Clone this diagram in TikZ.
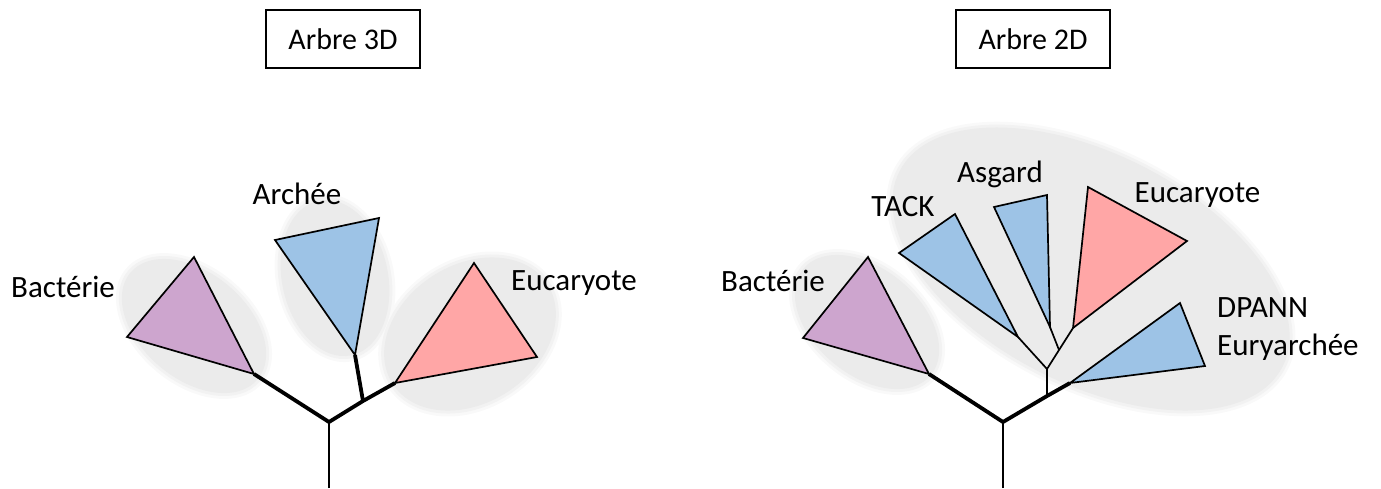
\documentclass[tikz,border=0pt]{standalone}
\usepackage{fontspec}
\setmainfont{Carlito}
\usepackage{xcolor}
\usetikzlibrary{positioning}
\definecolor{halo}{HTML}{EBEBEB}
\definecolor{bact}{HTML}{CDA5CE}
\definecolor{arch}{HTML}{9DC3E6}
\definecolor{euca}{HTML}{FFA6A6}

\begin{document}
\begin{tikzpicture}[x=1pt,y=-1pt,
  tri/.style={draw=black,line width=1.7pt,line join=miter},
  stem/.style={draw=black,line width=3.8pt},
  twig/.style={draw=black,line width=1.7pt},
  lab/.style={inner sep=0pt,font=\fontsize{31}{38.5}\selectfont},
  titlebox/.style={draw=black,line width=1.5pt,minimum width=154pt,minimum height=58pt,inner sep=0pt,font=\fontsize{30}{36}\selectfont}]
\useasboundingbox (0,0) rectangle (1381,488);
% grey halos, soft rim first
\foreach \grow/\tone in {6/30,3/65,0/100}{
  \foreach \cx/\cy/\rx/\ry/\rot in {194/326/83/53/-40, 335/278/79/53/102, 470/334/92/69/33,
                                    867/322/83/53/-40, 1091/269/215/115/-27}{
    \fill[halo!\tone,rotate around={\rot:(\cx,\cy)}] (\cx,\cy)
      ellipse[x radius={\rx pt+\grow pt},y radius={\ry pt+\grow pt}];
  }
}
% tree points
\foreach \n/\x/\y in {root0/329/488, j0/329/422, k0/363/401,
                      bA0/254/374, bL0/127/337, bT0/194/257,
                      aA0/355/355, aL0/275/240, aR0/379/218,
                      eA0/395/383, eT0/474/263, eR0/537/357,
                      root1/1003/488, j1/1003/422, k1/1047/396, m1/1047/369, n1/1059/350,
                      bA1/929/374, bL1/803/338, bT1/868/257,
                      dA1/1070/383, dT1/1180/303, dR1/1205/366,
                      tA1/1018/337, tL1/899/253, tT1/955/214,
                      gA1/1050/327, gL1/994/207, gR1/1047/195,
                      uA1/1073/328, uT1/1088/187, uR1/1187/241}{
  \coordinate (\n) at (\x,\y);
}
% left tree
\draw[twig] (root0) -- (j0);
\draw[stem] (bA0) -- (j0) -- (k0) -- (eA0);
\draw[stem] (k0) -- (aA0);
% right tree
\draw[twig] (root1) -- (j1);
\draw[stem] (bA1) -- (j1) -- (k1) -- (dA1);
\draw[twig] (k1) -- (m1);
\draw[twig] (tA1) -- (m1) -- (n1) -- (uA1);
\draw[twig] (n1) -- (gA1);
% clades
\foreach \a/\b/\c/\col in {bA0/bL0/bT0/bact, aA0/aL0/aR0/arch, eA0/eT0/eR0/euca,
                           bA1/bL1/bT1/bact, tA1/tL1/tT1/arch, gA1/gL1/gR1/arch,
                           uA1/uT1/uR1/euca, dA1/dT1/dR1/arch}{
  \draw[tri,fill=\col] (\a) -- (\b) -- (\c) -- cycle;
}
% titles
\node[titlebox] (t3d) at (343,39) {Arbre 3D};
\node[titlebox] (t2d) at (1033,39) {Arbre 2D};
% labels
\node[lab,anchor=base] (lbact0) at (63,297) {Bactérie};
\node[lab,anchor=base] (larch0) at (297,204.5) {Archée};
\node[lab,anchor=base] (leuc0) at (574,290) {Eucaryote};
\node[lab,anchor=base] (lbact1) at (773,291) {Bactérie};
\node[lab,anchor=base] (ltack) at (903,216) {TACK};
\node[lab,anchor=base] (lasg) at (1000,182.7) {Asgard};
\node[lab,anchor=base] (leuc1) at (1197.5,202.7) {Eucaryote};
\node[lab,anchor=north west,align=left] (ldpann) at (1217,297.3) {DPANN\\Euryarchée};
\end{tikzpicture}
\end{document}
